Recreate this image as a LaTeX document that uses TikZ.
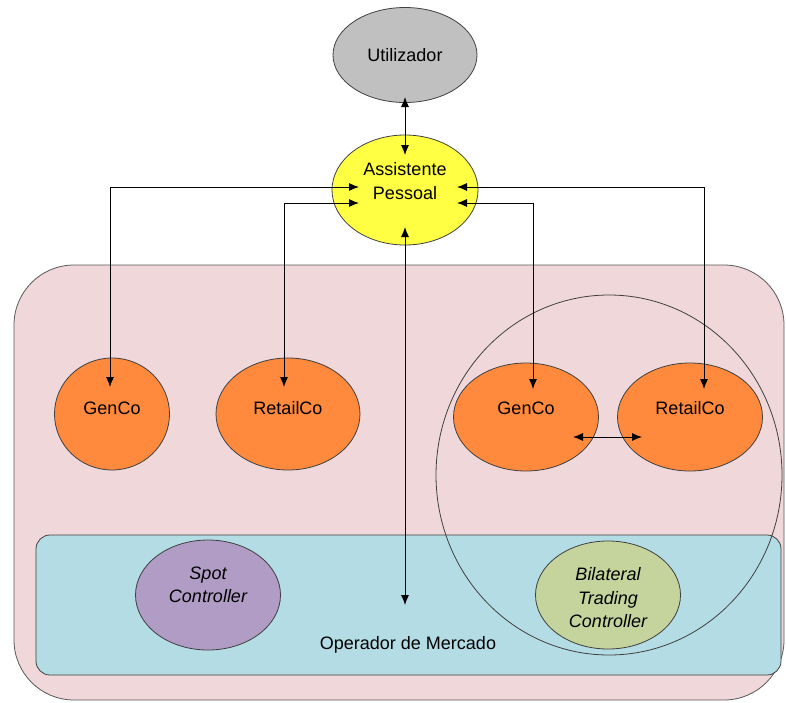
\documentclass[tikz,border=0pt]{standalone}
\usepackage{fontspec}
\setmainfont{Liberation Sans}
\usetikzlibrary{arrows.meta,shapes.geometric,calc}
\definecolor{cgray}{HTML}{C0C0C0}
\definecolor{cyellow}{HTML}{FFFF44}
\definecolor{cpink}{HTML}{F0D7D9}
\definecolor{cblue}{HTML}{B4DCE4}
\definecolor{corange}{HTML}{FF8A3D}
\definecolor{cpurple}{HTML}{B09CC4}
\definecolor{cgreen}{HTML}{C4D49C}
\begin{document}
\begin{tikzpicture}[x=1pt,y=-1pt,
  blob/.style={ellipse, draw=black!75, line width=0.8pt, inner sep=0pt},
  lbl/.style={font=\fontsize{18}{23.5}\selectfont, align=center, inner sep=0pt},
  ilbl/.style={lbl, font=\fontsize{18}{23.5}\selectfont\itshape},
  dconn/.style={draw=black, line width=0.9pt, {Latex[length=10pt,width=8pt]}-{Latex[length=10pt,width=8pt]}}]
\useasboundingbox (0,0) rectangle (786,702);
% containers
\draw[fill=cpink, draw=black!65, line width=0.8pt, rounded corners=60pt] (14,265) rectangle (784,700);
\draw[fill=cblue, draw=black!75, line width=0.8pt, rounded corners=14pt] (36,535) rectangle (781,675);
\draw[draw=black!75, line width=0.8pt] (609,475) ellipse [x radius=173, y radius=180];
% nodes
\node[blob, fill=cgray, minimum width=144pt, minimum height=95pt] (ut) at (405,55) {};
\node[blob, fill=cyellow, minimum width=146pt, minimum height=110pt] (ap) at (405,190) {};
\node[blob, fill=corange, minimum width=115pt, minimum height=112pt] (g1) at (112,414) {};
\node[blob, fill=corange, minimum width=144pt, minimum height=112pt] (r1) at (288,414) {};
\node[blob, fill=corange, minimum width=145pt, minimum height=108pt] (g2) at (526,417) {};
\node[blob, fill=corange, minimum width=145pt, minimum height=108pt] (r2) at (690,417) {};
\node[blob, fill=cpurple, minimum width=145pt, minimum height=110pt] (sp) at (208,595) {};
\node[blob, fill=cgreen, minimum width=145pt, minimum height=108pt] (bt) at (608,595) {};
% labels
\node[lbl] (tut) at (405,55) {Utilizador};
\node[lbl] (tap) at (405,181) {Assistente\\Pessoal};
\node[lbl] (tg1) at (112,408) {GenCo};
\node[lbl] (tr1) at (288,408) {RetailCo};
\node[lbl] (tg2) at (526,408) {GenCo};
\node[lbl] (tr2) at (690,408) {RetailCo};
\node[ilbl] (tsp) at (208,585) {Spot\\Controller};
\node[ilbl] (tbt) at (608,598) {Bilateral\\Trading\\Controller};
\node[lbl] (tom) at (408,645) {Operador de Mercado};
% connector endpoints
\coordinate (utB) at ($(ut.center)+(0,42)$);
\coordinate (apT) at ($(ap.center)+(0,-35)$);
\coordinate (apB) at ($(ap.center)+(0,37)$);
\coordinate (om) at (405,605);
\coordinate (apL1) at ($(ap.center)+(-46,-3)$);
\coordinate (apL2) at ($(ap.center)+(-46,13)$);
\coordinate (apR1) at ($(ap.center)+(52,-3)$);
\coordinate (apR2) at ($(ap.center)+(52,13)$);
\coordinate (g1T) at (110,387);
\coordinate (r1T) at (284,387);
\coordinate (g2T) at (533,389);
\coordinate (r2T) at (704,389);
\coordinate (g2R) at (573,437);
\coordinate (r2L) at (642,437);
% connectors
\draw[dconn] (utB) -- (apT);
\draw[dconn] (apB) -- (om);
\draw[dconn] (apL1) -| (g1T);
\draw[dconn] (apL2) -| (r1T);
\draw[dconn] (apR1) -| (r2T);
\draw[dconn] (apR2) -| (g2T);
\draw[dconn] (g2R) -- (r2L);
\end{tikzpicture}
\end{document}
